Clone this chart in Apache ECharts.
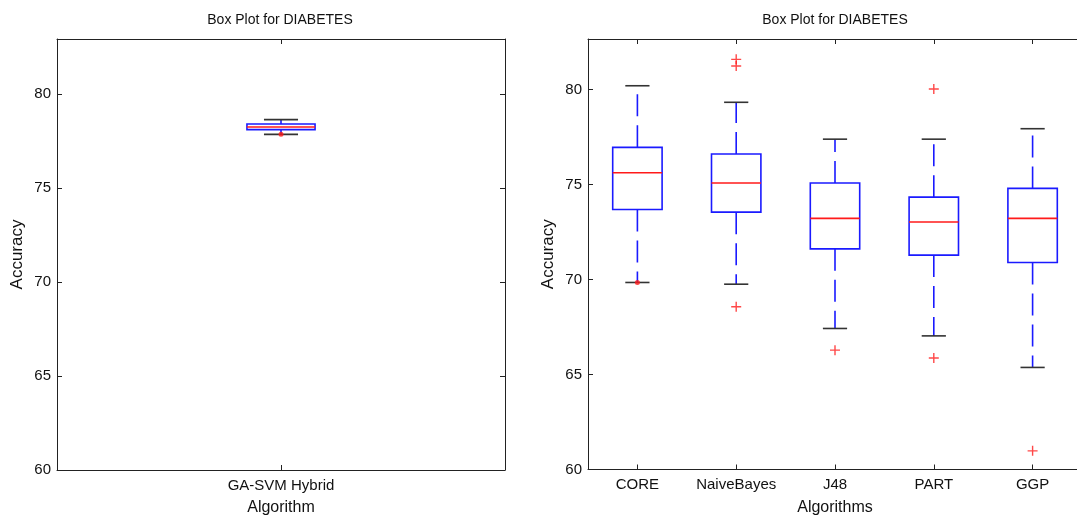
<!DOCTYPE html>
<html>
<head>
<meta charset="utf-8">
<script src="https://cdn.jsdelivr.net/npm/echarts@6/dist/echarts.min.js"></script>
<style>
html,body{margin:0;padding:0;background:#fff;overflow:hidden;}
#chart{width:1092px;height:521px;}
</style>
</head>
<body>
<div id="chart"></div>
<script>
// ---- Data ----
const leftCategories = ['GA-SVM Hybrid'];
const leftLow    = [77.85];
const leftQ1     = [78.10];
const leftMedian = [78.24];
const leftQ3     = [78.40];
const leftHigh   = [78.63];
const leftDotOutliers = [[0, 77.85]];

const rightCategories = ['CORE', 'NaiveBayes', 'J48', 'PART', 'GGP'];
const rightLow    = [69.84, 69.75, 67.42, 67.03, 65.37];
const rightQ1     = [73.68, 73.54, 71.61, 71.28, 70.89];
const rightMedian = [75.61, 75.07, 73.21, 73.02, 73.21];
const rightQ3     = [76.95, 76.60, 75.07, 74.33, 74.79];
const rightHigh   = [80.19, 79.32, 77.38, 77.38, 77.93];
const rightOutliers = [[1, 81.58], [1, 81.23], [1, 68.56], [2, 66.28], [3, 80.02], [3, 65.87], [4, 60.98]];
const rightDotOutliers = [[0, 69.84]];

const yTicks = [60, 65, 70, 75, 80];
const titleText = 'Box Plot for DIABETES';

// ---- Helpers ----
function buildBoxData(low, q1, med, q3, high) {
  return low.map((v, i) => [i, low[i], q1[i], med[i], q3[i], high[i]]);
}
function makeRender(boxFrac, capFrac) {
  return function (params, api) {
    const x = api.value(0);
    const lo = api.coord([x, api.value(1)]);
    const b1 = api.coord([x, api.value(2)]);
    const md = api.coord([x, api.value(3)]);
    const b3 = api.coord([x, api.value(4)]);
    const hi = api.coord([x, api.value(5)]);
    const band = api.size([1, 0])[0];
    const bw = band * boxFrac, cw = band * capFrac;
    const cx = lo[0];
    const blue = '#1a1aff', red = '#ff1a1a', black = '#333';
    return {
      type: 'group',
      children: [
        {type: 'line', shape: {x1: cx, y1: b3[1], x2: cx, y2: hi[1]}, style: {stroke: blue, lineWidth: 1.6, lineDash: [22, 9]}},
        {type: 'line', shape: {x1: cx, y1: b1[1], x2: cx, y2: lo[1]}, style: {stroke: blue, lineWidth: 1.6, lineDash: [22, 9]}},
        {type: 'line', shape: {x1: cx - cw / 2, y1: hi[1], x2: cx + cw / 2, y2: hi[1]}, style: {stroke: black, lineWidth: 1.6}},
        {type: 'line', shape: {x1: cx - cw / 2, y1: lo[1], x2: cx + cw / 2, y2: lo[1]}, style: {stroke: black, lineWidth: 1.6}},
        {type: 'rect', shape: {x: cx - bw / 2, y: b3[1], width: bw, height: b1[1] - b3[1]}, style: {stroke: blue, fill: 'none', lineWidth: 1.6}},
        {type: 'line', shape: {x1: cx - bw / 2, y1: md[1], x2: cx + bw / 2, y2: md[1]}, style: {stroke: red, lineWidth: 1.6}}
      ]
    };
  };
}
const plusPath = 'path://M4.3,0h1.4v10h-1.4z M0,4.3h10v1.4h-10z';
const font = 'Liberation Sans, Arial, Helvetica, sans-serif';
const txt = '#111';

function xAxes(gridIndex, cats) {
  return [
    {type: 'category', gridIndex, data: cats, position: 'bottom',
     name: gridIndex === 0 ? 'Algorithm' : 'Algorithms', nameLocation: 'middle', nameGap: 30,
     nameTextStyle: {fontFamily: font, fontSize: 16, color: txt},
     axisLine: {show: true, lineStyle: {color: '#222', width: 1}},
     axisTick: {show: true, inside: true, alignWithLabel: true, interval: 0, length: 5, lineStyle: {color: '#222'}},
     axisLabel: {fontFamily: font, fontSize: 15, color: txt, margin: 8, interval: 0},
     splitLine: {show: false}},
    {type: 'category', gridIndex, data: cats, position: 'top',
     axisLine: {show: true, lineStyle: {color: '#222', width: 1}},
     axisTick: {show: true, inside: true, alignWithLabel: true, interval: 0, length: 5, lineStyle: {color: '#222'}},
     axisLabel: {show: false}, splitLine: {show: false}}
  ];
}
function yAxes(gridIndex, maxV) {
  const common = {type: 'value', gridIndex, min: yTicks[0], max: maxV, interval: 5, splitLine: {show: false}};
  return [
    Object.assign({}, common, {position: 'left',
     name: 'Accuracy', nameLocation: 'middle', nameGap: 31,
     nameTextStyle: {fontFamily: font, fontSize: 17, color: txt},
     axisLine: {show: true, lineStyle: {color: '#222', width: 1}},
     axisTick: {show: true, inside: true, length: 5, lineStyle: {color: '#222'}},
     axisLabel: {fontFamily: font, fontSize: 15, color: txt, margin: 6, showMaxLabel: false,
       formatter: v => (yTicks.indexOf(v) >= 0 ? String(v) : '')}}),
    Object.assign({}, common, {position: 'right',
     axisLine: {show: true, lineStyle: {color: '#222', width: 1}},
     axisTick: {show: true, inside: true, length: 5, lineStyle: {color: '#222'}},
     axisLabel: {show: false}})
  ];
}

const chart = echarts.init(document.getElementById('chart'), null, {renderer: 'canvas'});
chart.setOption({
  backgroundColor: '#fff',
  animation: false,
  title: [
    {text: titleText, left: 280, top: 13, padding: 0, textAlign: 'center',
     textStyle: {fontFamily: font, fontSize: 14, fontWeight: 'normal', color: txt}},
    {text: titleText, left: 835, top: 13, padding: 0, textAlign: 'center',
     textStyle: {fontFamily: font, fontSize: 14, fontWeight: 'normal', color: txt}}
  ],
  grid: [
    {left: 57, top: 39, width: 448, height: 432, containLabel: false},
    {left: 588, top: 39, width: 494, height: 430.5, containLabel: false}
  ],
  xAxis: xAxes(0, leftCategories).concat(xAxes(1, rightCategories)),
  yAxis: yAxes(0, 82.92).concat(yAxes(1, 82.65)),
  series: [
    {type: 'custom', xAxisIndex: 0, yAxisIndex: 0, renderItem: makeRender(0.152, 0.076),
     data: buildBoxData(leftLow, leftQ1, leftMedian, leftQ3, leftHigh), encode: {x: 0, y: [1, 2, 3, 4, 5]}, z: 3},
    {type: 'scatter', xAxisIndex: 0, yAxisIndex: 0, data: leftDotOutliers, symbol: 'circle', symbolSize: 5,
     itemStyle: {color: '#ff1a1a'}, z: 5},
    {type: 'custom', xAxisIndex: 2, yAxisIndex: 2, renderItem: makeRender(0.5, 0.245),
     data: buildBoxData(rightLow, rightQ1, rightMedian, rightQ3, rightHigh), encode: {x: 0, y: [1, 2, 3, 4, 5]}, z: 3},
    {type: 'scatter', xAxisIndex: 2, yAxisIndex: 2, data: rightOutliers, symbol: plusPath, symbolSize: 10,
     itemStyle: {color: '#ff1a1a'}, z: 5},
    {type: 'scatter', xAxisIndex: 2, yAxisIndex: 2, data: rightDotOutliers, symbol: 'circle', symbolSize: 5,
     itemStyle: {color: '#ff1a1a'}, z: 5}
  ]
});
</script>
</body>
</html>
